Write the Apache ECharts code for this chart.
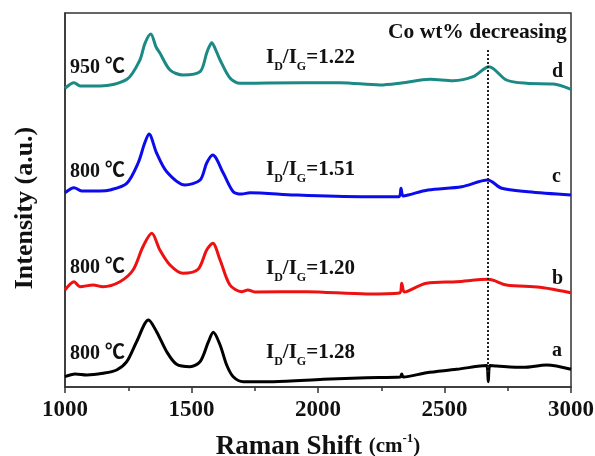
<!DOCTYPE html>
<html>
<head>
<meta charset="utf-8">
<script src="https://cdn.jsdelivr.net/npm/echarts@6/dist/echarts.min.js"></script>
<style>
html, body { margin: 0; padding: 0; background: #fff; }
#chart { width: 595px; height: 456px; }
</style>
</head>
<body>
<div id="chart"></div>
<script>
// Raman spectra, curves offset vertically (a.u.)
var shiftD = [1000,1036,1060,1140,1245,1296,1316,1339,1360,1375,1415,1466,1534,1560,1570,1580,1593,1613,1652,1692,1800,2087,2245,2330,2443,2534,2613,2676,2745,2824,2930,3000];
var intD   = [298.7,304.3,301,301,307.7,327,343.7,353,340,334,317,312,315.3,334,340.3,344.3,338.7,327,309,303.7,304,304.3,302,304,307.7,306.3,310.3,320.3,307,303.7,303,297.7];

var shiftC = [1000,1036,1066,1138,1178,1244,1289,1315,1332,1362,1402,1474,1534,1560,1584,1626,1665,1698,1731,1909,2172,2320,2328,2336,2356,2435,2568,2671,2726,2830,3000];
var intC   = [194.3,199.3,196,196,197,203.7,224,244,253,234,215.3,202,207,224,232,213.7,195.3,193,194.3,192,190.3,190.3,198.7,191,192,197,200.3,207,198.7,195.3,192];

var shiftB = [1000,1036,1059,1111,1150,1217,1269,1308,1343,1375,1415,1466,1526,1560,1584,1613,1652,1698,1723,1750,1955,2192,2322,2331,2340,2350,2429,2548,2673,2745,2877,3000];
var intB   = [97,105.3,100.3,102,100.3,105.3,117,140.3,153.7,137,122,113.7,117.7,137,143.7,127,102,95.3,97,95,95.3,93,94,103.7,95,95.3,103.7,105.3,107.7,102,99.7,94.3];

var shiftA = [1000,1040,1086,1150,1204,1244,1283,1330,1362,1402,1441,1494,1534,1567,1586,1613,1639,1665,1705,1823,2021,2192,2325,2331,2337,2429,2548,2640,2666,2673,2680,2706,2811,2904,3000];
var intA   = [10.3,13,12,13.7,17,25.3,45.3,67,55.3,35.3,22.7,20.3,25.3,45.3,54.7,42,22,10.3,5.3,5.3,7.7,9.3,10,13,10,14.3,17.7,21,21.5,5.3,21.5,21,19.7,22,17.7];

var temps  = ['800 ℃', '800 ℃', '800 ℃', '950 ℃'];
var ratios = ['1.28', '1.20', '1.51', '1.22'];
var letters = ['a', 'b', 'c', 'd'];
var xTicks = [1000, 1500, 2000, 2500, 3000];
var peak2D = 2670;

function pairs(xs, ys) {
    var out = [];
    for (var i = 0; i < xs.length; i++) out.push([xs[i], ys[i]]);
    return out;
}

var chart = echarts.init(document.getElementById('chart'), null, {renderer: 'canvas'});
var serif = '"Liberation Serif", "Noto Sans CJK SC"';
var colors = ['#000000', '#ee1111', '#0b0bee', '#1b8a84'];
var curves = [pairs(shiftA, intA), pairs(shiftB, intB), pairs(shiftC, intC), pairs(shiftD, intD)];

// label rows (pixel y) for each curve
var tempY = [354, 268, 172, 68];
var ratioY = [357, 273, 174, 62];
var letterY = [351, 279, 177, 72];

var graphics = [];
for (var k = 0; k < 4; k++) {
    graphics.push({
        type: 'text', x: 70, y: tempY[k],
        style: {text: temps[k], font: 'bold 20px ' + serif, fill: '#111', verticalAlign: 'middle'}
    });
    graphics.push({
        type: 'text', x: 266, y: ratioY[k],
        style: {
            text: '{m|I}{s|D}{m|/I}{s|G}{m|=' + ratios[k] + '}',
            verticalAlign: 'middle',
            rich: {
                m: {fontFamily: serif, fontWeight: 'bold', fontSize: 21, fill: '#111', height: 24, verticalAlign: 'top'},
                s: {fontFamily: serif, fontWeight: 'bold', fontSize: 12, fill: '#111', height: 24, padding: [9, 0, 0, 0], verticalAlign: 'top'}
            }
        }
    });
    graphics.push({
        type: 'text', x: 552, y: letterY[k],
        style: {text: letters[k], font: 'bold 20px ' + serif, fill: '#111', verticalAlign: 'middle'}
    });
}
graphics.push({
    type: 'text', x: 388, y: 32,
    style: {text: 'Co wt% decreasing', font: 'bold 21.5px ' + serif, fill: '#111', verticalAlign: 'middle'}
});
graphics.push({
    type: 'text', x: 25, y: 208, rotation: Math.PI / 2,
    style: {text: 'Intensity (a.u.)', font: 'bold 26px ' + serif, fill: '#111', align: 'center', verticalAlign: 'middle'}
});

var series = curves.map(function (d, i) {
    var s = {
        type: 'line', data: d, showSymbol: false, smooth: 0.3,
        lineStyle: {color: colors[i], width: 3}, itemStyle: {color: colors[i]},
        silent: true, z: 3
    };
    if (i === 3) {
        s.markLine = {
            silent: true, symbol: 'none', label: {show: false},
            lineStyle: {color: '#222', type: 'dotted', width: 2},
            data: [[{coord: [peak2D, 15]}, {coord: [peak2D, 337]}]]
        };
    }
    return s;
});

var option = {
    backgroundColor: '#fff',
    animation: false,
    grid: {left: 65, right: 24, top: 13, bottom: 69, containLabel: false, outerBoundsMode: 'none',
           show: true, borderColor: '#333', borderWidth: 1.5, backgroundColor: 'transparent'},
    xAxis: {
        type: 'value', min: xTicks[0], max: xTicks[xTicks.length - 1], interval: 500,
        axisLine: {show: true, lineStyle: {color: '#333', width: 1.5}},
        axisTick: {show: true, inside: false, length: 6, lineStyle: {color: '#333', width: 1.5}},
        minorTick: {show: true, splitNumber: 2, length: 4, lineStyle: {color: '#333', width: 1.5}},
        splitLine: {show: false},
        axisLabel: {fontFamily: serif, fontWeight: 'bold', fontSize: 23, color: '#111', margin: 12,
                    formatter: function (v) { return String(v); }},
        name: '{a|Raman Shift }{b|(cm}{c|-1}{b|)}',
        nameLocation: 'middle', nameGap: 37,
        nameTextStyle: {
            rich: {
                a: {fontFamily: serif, fontWeight: 'bold', fontSize: 27, color: '#111', height: 30, verticalAlign: 'bottom'},
                b: {fontFamily: serif, fontWeight: 'bold', fontSize: 21, color: '#111', height: 30, verticalAlign: 'bottom'},
                c: {fontFamily: serif, fontWeight: 'bold', fontSize: 13, color: '#111', height: 30, verticalAlign: 'top', padding: [0, 0, 8, 0]}
            }
        }
    },
    yAxis: {
        type: 'value', min: 0, max: 374,
        axisLine: {show: true, lineStyle: {color: '#333', width: 1.5}},
        axisTick: {show: false}, axisLabel: {show: false}, splitLine: {show: false}
    },
    graphic: graphics,
    series: series
};
chart.setOption(option);
</script>
</body>
</html>
